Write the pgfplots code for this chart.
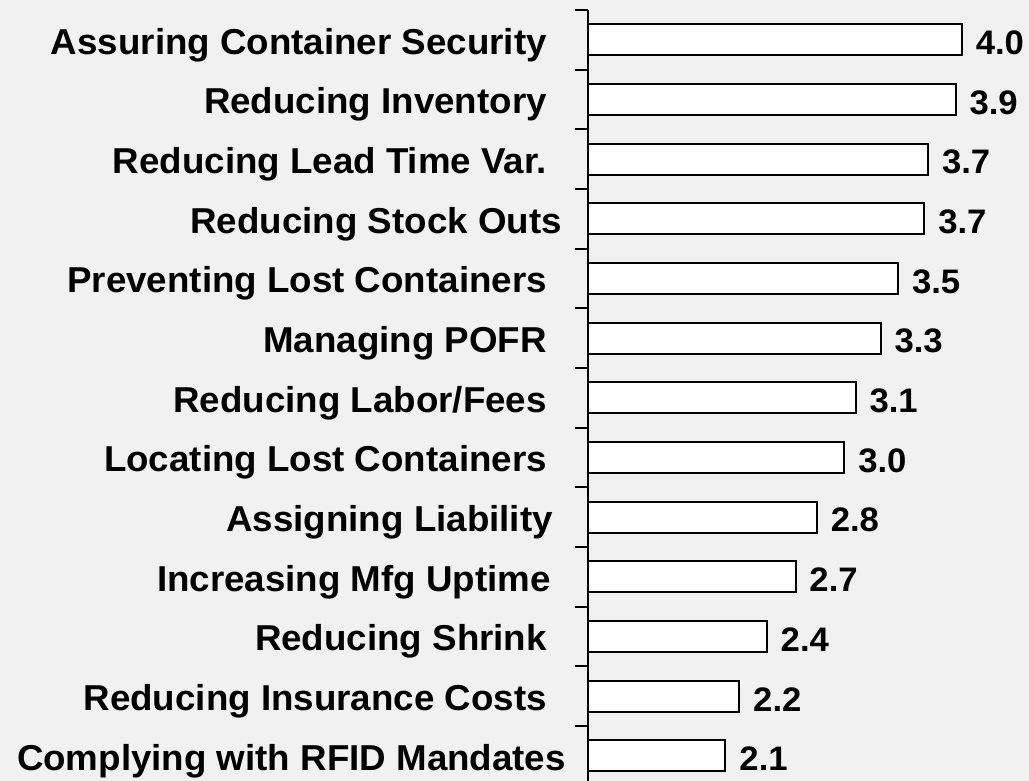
\documentclass[border=0pt]{standalone}
\usepackage{pgfplots}
\pgfplotsset{compat=1.18}
\usepackage{pgfplotstable}
\usepackage{fontspec}
\setmainfont{Liberation Sans}[FakeStretch=1.02]
\definecolor{bg}{RGB}{241,241,241}

\pgfplotstableread{
idx value label
0  2.10 2.1
1  2.21 2.2
2  2.43 2.4
3  2.66 2.7
4  2.83 2.8
5  3.05 3.0
6  3.14 3.1
7  3.34 3.3
8  3.48 3.5
9  3.69 3.7
10 3.72 3.7
11 3.94 3.9
12 3.99 4.0
}\scores

\begin{document}
\begin{tikzpicture}
\fill[bg] (0pt,0pt) rectangle (1029pt,-781pt);
\begin{axis}[
  at={(588pt,-10pt)}, anchor=north west,
  scale only axis, width=441pt, height=771pt,
  xmin=1, xmax=4.528,
  ymin=-0.4212, ymax=12.5,
  hide x axis,
  axis y line*=left,
  axis line style={line width=2pt, black},
  ytick={0,...,12},
  yticklabels={
    {Complying with RFID Mandates\hspace{-19pt}\mbox{}},
    {Reducing Insurance Costs},
    {Reducing Shrink},
    {Increasing Mfg Uptime\hspace{-4pt}\mbox{}},
    {Assigning Liability\hspace{-6pt}\mbox{}},
    {Locating Lost Containers},
    {Reducing Labor/Fees},
    {Managing POFR},
    {Preventing Lost Containers},
    {Reducing Stock Outs\hspace{-15pt}\mbox{}},
    {Reducing Lead Time Var.},
    {Reducing Inventory},
    {Assuring Container Security}},
  major tick length=0pt,
  yticklabel style={font=\fontsize{36}{40}\selectfont\bfseries, anchor=east, inner sep=0pt, xshift=-41pt, yshift=-5pt},
  extra y ticks={0.5,1.5,...,12.5},
  extra y tick labels={},
  extra y tick style={major tick length=13pt, tick align=outside, tick style={line width=2pt, black}},
  clip=false,
]
\addplot[xbar, fill=white, draw=black, line width=2pt, bar width=31pt,
  nodes near coords, point meta=explicit symbolic,
  nodes near coords style={font=\fontsize{34}{38}\selectfont\bfseries, anchor=west, inner sep=0pt, xshift=13pt, yshift=-3pt}]
  table[x=value, y=idx, meta=label] {\scores};
\end{axis}
\pgfresetboundingbox
\useasboundingbox (0pt,0pt) rectangle (1029pt,-781pt);
\end{tikzpicture}
\end{document}
